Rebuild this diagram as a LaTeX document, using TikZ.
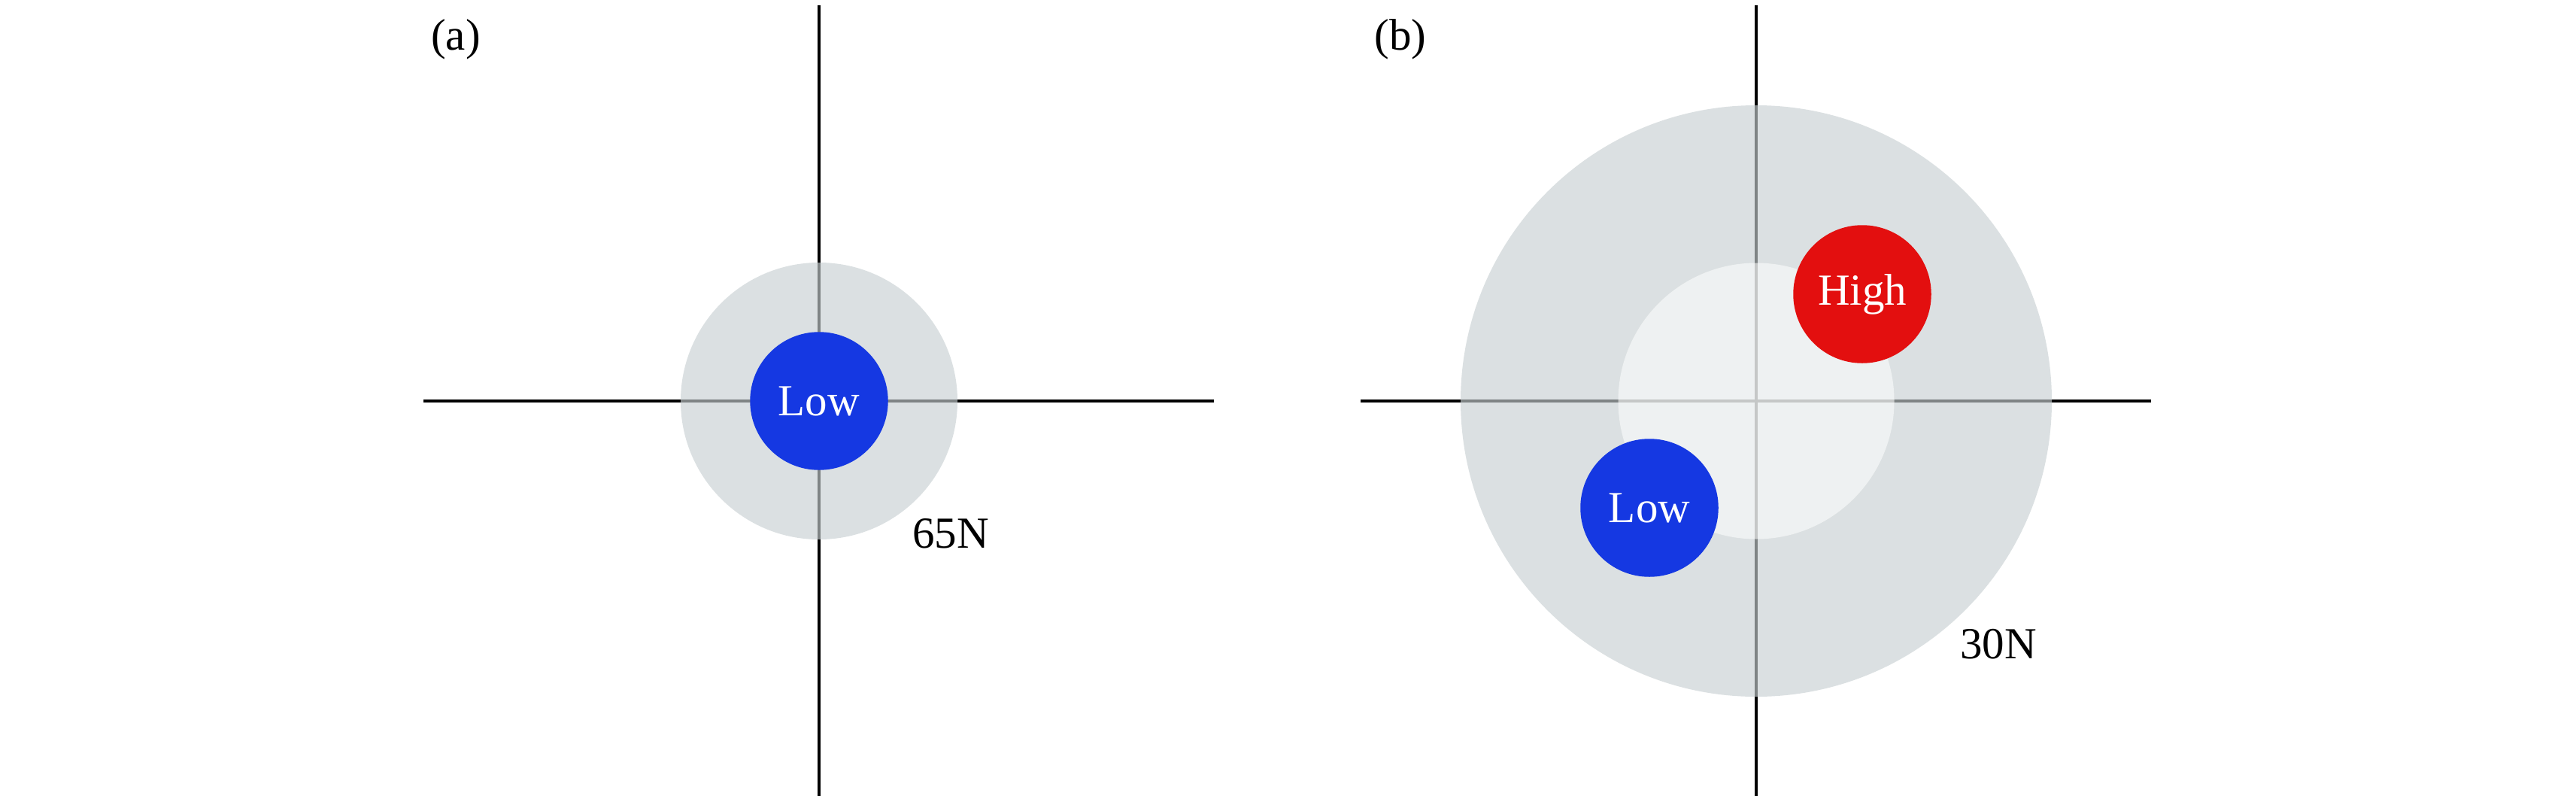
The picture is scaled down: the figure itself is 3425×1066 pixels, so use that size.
\documentclass[tikz,border=0pt]{standalone}
\usepackage{fontspec}
\setmainfont{Liberation Serif}
\definecolor{halogrey}{rgb}{0.78,0.81,0.82}
\definecolor{lowblue}{RGB}{21,56,226}
\definecolor{highred}{RGB}{227,15,15}
\begin{document}
\begin{tikzpicture}[x=0.2pt,y=-0.2pt,
  axisline/.style={line width=0.94pt,black},
  halo/.style={circle,draw=none,fill=halogrey,fill opacity=0.64,inner sep=0pt},
  core/.style={circle,draw=none,fill=white,fill opacity=0.55,inner sep=0pt,minimum size=73.4pt},
  cell/.style={circle,draw=none,inner sep=0pt,minimum size=36.7pt,text=white,font=\fontsize{11.8}{13}\selectfont},
  lbl/.style={font=\fontsize{11.8}{13}\selectfont,inner sep=0pt}]
\useasboundingbox (0,0) rectangle (3425,1066);
% panel (a)
\coordinate (aN) at (1089,7);
\coordinate (aS) at (1089,1058);
\coordinate (aW) at (563,533);
\coordinate (aE) at (1614,533);
\draw[axisline] (aN) -- (aS);
\draw[axisline] (aW) -- (aE);
\node[halo,minimum size=73.6pt] (ahalo) at (1089,533) {};
\node[cell,fill=lowblue] (alow) at (1089,533) {Low};
\node[lbl] (alabel) at (606,52) {(a)};
\node[lbl,anchor=base west] (a65) at (1212,728) {65N};
% panel (b)
\coordinate (bN) at (2335,7);
\coordinate (bS) at (2335,1058);
\coordinate (bW) at (1809,533);
\coordinate (bE) at (2860,533);
\draw[axisline] (bN) -- (bS);
\draw[axisline] (bW) -- (bE);
\node[halo,minimum size=157.2pt] (bhalo) at (2335,533) {};
\node[core] (bcore) at (2335,533) {};
\node[cell,fill=highred] (bhigh) at (2476,391) {High};
\node[cell,fill=lowblue] (blow) at (2193,675) {Low};
\node[lbl] (blabel) at (1862,52) {(b)};
\node[lbl,anchor=base west] (b30) at (2605,875) {30N};
\end{tikzpicture}
\end{document}
